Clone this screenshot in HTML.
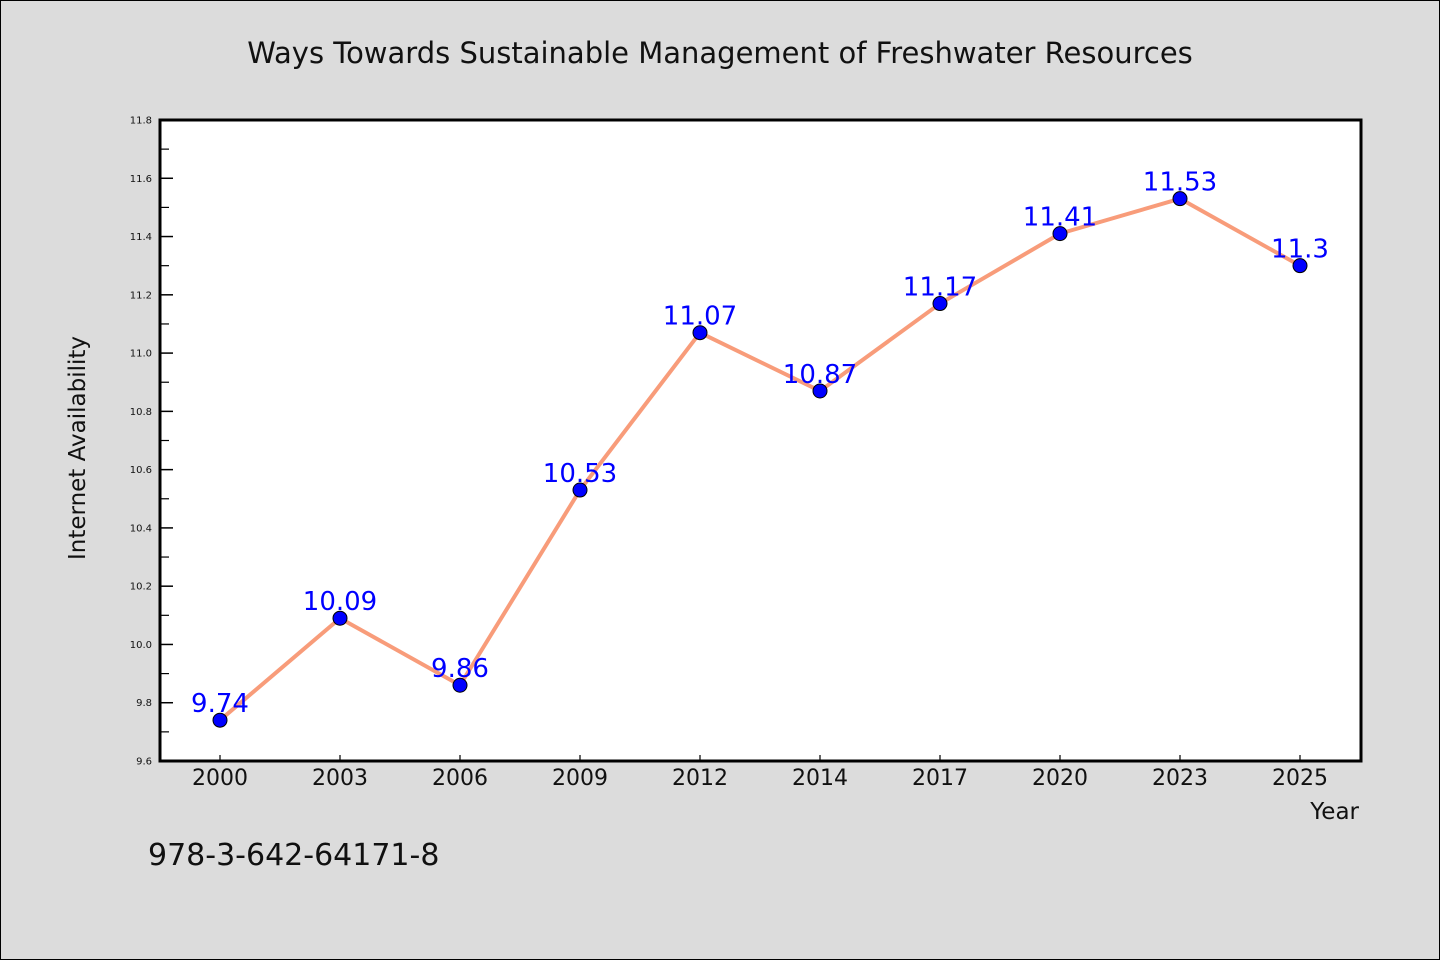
<!DOCTYPE html>
<html><head><meta charset="utf-8"><style>
body{margin:0;background:#dcdcdc;}
svg{display:block;font-family:"WenQuanYi Zen Hei","DejaVu Sans",sans-serif;}
</style></head><body>
<svg id="c" width="1440" height="960">
<rect x="0.5" y="0.5" width="1439" height="959" fill="#dcdcdc" stroke="#000"/>
<text x="720" y="63" font-size="29" text-anchor="middle" fill="#111">Ways Towards Sustainable Management of Freshwater Resources</text>
<rect x="160" y="120" width="1201" height="641" fill="#fff"/>
<g id="ticks"></g>
<g id="series"></g>
<rect x="160" y="120" width="1201" height="641" fill="none" stroke="#000" stroke-width="3"/>
<text x="85" y="448" font-size="23" text-anchor="middle" fill="#111" transform="rotate(-90 85 448)">Internet Availability</text>
<text x="1359" y="819" font-size="23" text-anchor="end" fill="#111">Year</text>
<text x="148" y="865" font-size="30" fill="#111">978-3-642-64171-8</text>
</svg>
<script>
const categories=["2000","2003","2006","2009","2012","2014","2017","2020","2023","2025"];
const values=[9.74,10.09,9.86,10.53,11.07,10.87,11.17,11.41,11.53,11.3];
const valueLabels=["9.74","10.09","9.86","10.53","11.07","10.87","11.17","11.41","11.53","11.3"];
const yTicks=["9.6","9.8","10.0","10.2","10.4","10.6","10.8","11.0","11.2","11.4","11.6","11.8"];
const yMin=9.6,yMax=11.8;
const NS="http://www.w3.org/2000/svg";
const L=160,R=1361,T=120,B=761;
function y(v){return B-(v-yMin)/(yMax-yMin)*(B-T);}
function x(i){return 220+i*120;}
function mk(tag,attrs,parent){const e=document.createElementNS(NS,tag);for(const k in attrs)e.setAttribute(k,attrs[k]);parent.appendChild(e);return e;}
const tg=document.getElementById('ticks');
yTicks.forEach((t,i)=>{
 const v=parseFloat(t),yy=y(v);
 const ln=mk('line',{x1:L,x2:L+13,y1:yy,y2:yy,stroke:'#000','stroke-width':1.5},tg);
 
 
 const tx=mk('text',{x:L-8,y:yy+3.5,'font-size':10,'text-anchor':'end',fill:'#111'},tg);
 tx.textContent=t;
 
 
 if(i<yTicks.length-1){
  const ym=y(v+0.1);
  const mn=mk('line',{x1:L,x2:L+9,y1:ym,y2:ym,stroke:'#000','stroke-width':1.2},tg);
  
  
 }
});
categories.forEach((c,i)=>{
 const ln=mk('line',{x1:x(i),x2:x(i),y1:B,y2:B-6,stroke:'#000','stroke-width':1.2},tg);
 
 
 const tx=mk('text',{x:x(i),y:785,'font-size':22,'text-anchor':'middle',fill:'#111'},tg);
 tx.textContent=c;
 
 
});
const sg=document.getElementById('series');
const pl=mk('polyline',{points:values.map((v,i)=>x(i)+','+y(v)).join(' '),fill:'none',stroke:'#f89c7a','stroke-width':4,'stroke-linejoin':'round'},sg);


values.forEach((v,i)=>{
 const cc=mk('circle',{cx:x(i),cy:y(v),r:7,fill:'#0000ff',stroke:'#000','stroke-width':1},sg);
 
 
 const tx=mk('text',{x:x(i),y:y(v)-8,'font-size':26,'text-anchor':'middle',fill:'#0000ff'},sg);
 tx.textContent=valueLabels[i];
 
 
});
</script>
</body></html>
